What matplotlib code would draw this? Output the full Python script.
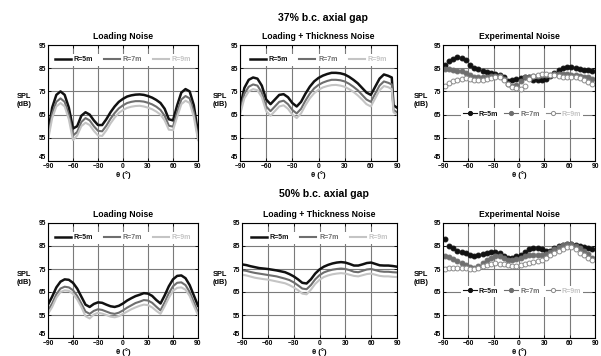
import numpy as np
import matplotlib
matplotlib.use("Agg")
from matplotlib import pyplot as plt

plt.rcParams['font.family'] = ['Liberation Sans', 'DejaVu Sans']
plt.rcParams['font.weight'] = 'bold'

# angles (deg)
theta = list(range(-90, 91, 5))
theta_lt = list(range(-90, 81, 5)) + [84, 86, 90]
theta_exp = list(range(-88, 88, 5))

# 37% b.c. axial gap
load37_r5 = [57, 68, 73.5, 75, 73.5, 68, 59, 60, 64.5, 66, 65, 62.5, 60.5, 60.5, 63, 66, 68.5, 70.5, 71.8,
             72.8, 73.3, 73.6, 73.7, 73.5, 73, 72.3, 71.3, 70, 67.5, 63, 62.5, 69, 74.5, 76, 75, 69, 57]
load37_r7 = [55, 65.5, 70.5, 72, 70.5, 65, 56, 57.5, 61.8, 63.5, 62.5, 60, 58, 57.8, 60.2, 63.2, 65.7, 67.7, 69,
             70, 70.5, 70.8, 70.8, 70.6, 70.1, 69.4, 68.4, 67, 64.5, 60.2, 59.8, 66, 71.5, 73, 72, 66, 55]
load37_r9 = [54, 63.5, 68.5, 70, 68.5, 63, 54, 56, 60, 61.5, 60.5, 58, 56, 55.8, 58.2, 61.2, 63.7, 65.7, 67,
             67.9, 68.4, 68.7, 68.8, 68.5, 68, 67.3, 66.3, 65, 62.5, 58.5, 58.3, 64, 69.5, 71, 70, 64, 54]

lt37_r5 = [68, 76.5, 80, 81, 80.5, 77.5, 71.5, 69.5, 71.5, 73.5, 73.8, 72.5, 70, 68.5, 70.5, 74, 77, 79.3, 80.8,
           81.8, 82.5, 83, 83, 82.8, 82.3, 81.3, 80, 78.5, 76.5, 74.5, 73.5, 77, 80.5, 82.3, 81.7, 81, 69, 68]
lt37_r7 = [66.5, 74, 77, 78, 77.5, 74.5, 68.5, 66.5, 68.5, 70.5, 71, 69.5, 67, 65.5, 67.5, 71, 74, 76.3, 77.8,
           78.8, 79.5, 80, 80, 79.8, 79.3, 78.3, 77, 75.5, 73.5, 71.5, 70.5, 74, 77.5, 79.3, 78.7, 78, 67, 66]
lt37_r9 = [65, 72, 75, 76, 75.5, 72.5, 66.5, 64.5, 66.5, 68.5, 69, 67.5, 65, 63.5, 65.5, 69, 72, 74.2, 75.7,
           76.7, 77.3, 77.7, 77.8, 77.5, 77, 76, 74.8, 73.3, 71.5, 69.5, 68.5, 72, 75.5, 77.3, 76.8, 76, 66, 65]

exp37_r5 = [86.5, 88, 89, 89.7, 89.5, 88.5, 86.5, 85.3, 84.5, 84, 83.5, 83, 82.5, 82, 81, 79.5, 80, 80.5,
            80.7, 81, 81, 80, 79.8, 79.8, 80.2, 81.5, 82.8, 84.3, 85.2, 85.5, 85.5, 85.3, 84.8, 84.4, 84.2, 84]
exp37_r7 = [84.5, 84.5, 84.3, 84, 83.7, 83, 82, 81.3, 81, 81, 81.3, 81.6, 81.8, 81.5, 80.3, 78, 77.4, 77.8,
            79.5, 81, 81.4, 81.6, 81.8, 82, 82, 82.2, 82.4, 82.5, 82.4, 82.3, 82.2, 82, 81.7, 81.4, 81, 80.4]
exp37_r9 = [77.3, 78.8, 79.5, 80, 80.5, 80.7, 80.5, 80, 79.7, 79.8, 80.2, 80.6, 81, 81.2, 79.8, 78, 77, 76.3,
            76, 77.5, 80.5, 81.5, 82, 82.3, 82.4, 82.2, 81.9, 81.6, 81.3, 81.2, 81.2, 81, 80.6, 80, 79.2, 78.4]

# 50% b.c. axial gap
load50_r5 = [59.5, 63, 67, 69.5, 70.5, 70.3, 69, 66.5, 63, 59.5, 58.5, 59.8, 60.5, 60.3, 59.5, 58.8, 58.5, 59, 60,
             61.3, 62.3, 63.2, 63.8, 64.5, 64.3, 63.3, 61.5, 60, 63.5, 67.5, 70.5, 72, 72.2, 71, 68, 63.5, 59]
load50_r7 = [57, 60, 64, 66.5, 67.3, 67, 65.8, 63.3, 60, 56.5, 55.5, 56.8, 57.5, 57.2, 56.5, 55.8, 55.5, 56, 57,
             58.2, 59.2, 60.2, 60.8, 61.5, 61.3, 60.3, 58.6, 57, 60.5, 64.5, 67.5, 69, 69.2, 68, 65, 60.5, 56]
load50_r9 = [55.5, 58.5, 62.5, 65, 65.7, 65.5, 64.2, 61.8, 58.5, 54.5, 53.5, 55.2, 56, 55.6, 55, 54.3, 54, 54.5, 55.5,
             56.5, 57.5, 58.3, 59, 59.5, 59.3, 58.3, 56.8, 55.5, 58.8, 62.5, 65.5, 66.8, 67, 66, 63.3, 59, 55]

lt50_r5 = [77, 76.7, 76.2, 75.8, 75.4, 75.2, 75, 74.7, 74.4, 74, 73.6, 72.8, 71.8, 70.5, 69, 68.7, 70.5, 73, 74.8,
           76, 76.8, 77.4, 77.8, 78, 77.8, 77.2, 76.5, 76.5, 77, 77.6, 77.8, 77.2, 76.6, 76.5, 76.5, 76.3, 76]
lt50_r7 = [74.5, 74.2, 73.7, 73.3, 73, 72.7, 72.4, 72.1, 71.8, 71.3, 70.8, 70.2, 69.2, 67.9, 66.5, 66.2, 68, 70.5, 72.3,
           73.5, 74.2, 74.7, 75, 75.2, 75, 74.5, 73.8, 73.6, 74.2, 74.8, 75, 74.5, 74, 73.8, 73.8, 73.6, 73.5]
lt50_r9 = [72.5, 72.2, 71.7, 71.2, 70.9, 70.6, 70.4, 70, 69.6, 69.2, 68.8, 68, 67, 65.8, 64.3, 64, 66, 68.5, 70.3,
           71.5, 72.2, 72.7, 73, 73.2, 73, 72.5, 72, 71.8, 72.3, 72.8, 73, 72.5, 72, 71.8, 71.8, 71.6, 71.5]

exp50_r5 = [88, 85.2, 84, 83, 82.5, 82, 81.3, 80.5, 81, 81.5, 82, 82.5, 82.5, 82, 80.5, 79.8, 80, 80.5,
            81, 82.3, 83.5, 84, 84, 83.8, 83, 83, 84, 84.8, 85.5, 86, 86, 85.5, 85, 84.5, 84, 83.5]
exp50_r7 = [80.5, 80.3, 79.5, 78.5, 77.5, 76.7, 76, 75.6, 76.5, 77.5, 78.8, 79.8, 80.5, 80.5, 79.8, 79, 79, 79.2,
            79.8, 80.5, 81, 81, 81, 81.2, 81.5, 82.5, 83.5, 84.5, 85.5, 86, 85.8, 85, 84, 83, 81.5, 80]
exp50_r9 = [75, 75.3, 75.5, 75.5, 75.6, 75.5, 75.2, 75, 75.5, 76.2, 76.8, 77.3, 77.5, 77.3, 77, 76.8, 76.5, 76.5,
            76.8, 77.2, 77.5, 78, 78.5, 79, 80, 81, 82, 82.8, 83.8, 84.5, 84.5, 83.5, 82, 81, 80, 79]

labels = ['R=5m', 'R=7m', 'R=9m']
colors = ['#111111', '#6e6e6e', '#c4c4c4']

W, H = 601, 356
fig = plt.figure(figsize=(W / 100, H / 100), dpi=100)


def px_axes(l, t, r, b):
    return fig.add_axes([l / W, 1 - b / H, (r - l) / W, (b - t) / H])


def style(ax, title, spl_x, spl_y):
    ax.set_xlim(-90, 90)
    ax.set_ylim(45, 95)
    ax.set_xticks(range(-90, 91, 30))
    ax.set_yticks(range(45, 96, 10))
    ax.grid(True, color='#7a7a7a', lw=0.8)
    ax.set_axisbelow(True)
    ax.tick_params(labelsize=4.8, length=2.5, width=0.6, direction='in', top=True, right=True, pad=1.5)
    for lab in ax.get_xticklabels() + ax.get_yticklabels():
        lab.set_fontweight('bold')
    # "45" sits just above the axis corner, as in the source figure
    ax.yaxis.get_major_ticks()[0].label1.set_verticalalignment('bottom')
    for s in ax.spines.values():
        s.set_linewidth(0.8)
    ax.set_title(title, fontsize=6.2, fontweight='bold', pad=4)
    ax.set_xlabel('θ (°)', fontsize=5.5, fontweight='bold', labelpad=0.5)
    fig.text(spl_x / W, 1 - spl_y / H, 'SPL\n(dB)', fontsize=5.3, fontweight='bold',
             ha='center', va='center', linespacing=1.2)


def lines_panel(ax, x, series, title, spl_x, spl_y):
    for y, c, lab, lw in zip(series, colors, labels, [1.8, 1.5, 1.5]):
        ax.plot(x, y, color=c, lw=lw, label=lab)
    style(ax, title, spl_x, spl_y)
    leg = ax.legend(loc='upper center', bbox_to_anchor=(0.5, 0.955), ncol=3, fontsize=5,
                    frameon=True, fancybox=False, edgecolor='none', facecolor='white', framealpha=1,
                    handlelength=2.3, handletextpad=0.4, columnspacing=1.6, borderpad=0.35)
    for t, c in zip(leg.get_texts(), colors):
        t.set_color(c)
        t.set_fontweight('bold')


def exp_panel(ax, series, title, spl_x, spl_y):
    fills = ['#111111', '#6e6e6e', 'white']
    edges = ['#111111', '#6e6e6e', '#8a8a8a']
    for y, fc, ec, c, lab in zip(series, fills, edges, colors, labels):
        ax.plot(theta_exp, y, ls='none', marker='o', ms=3.5, mfc=fc, mec=ec, mew=0.7, label=lab)
    style(ax, title, spl_x, spl_y)
    hs = [plt.Line2D([], [], color=e, lw=0.8, marker='o', ms=3, mfc=f, mec=e, mew=0.7)
          for f, e in zip(fills, edges)]
    leg = ax.legend(hs, labels, loc='center', bbox_to_anchor=(0.52, 0.405), ncol=3, fontsize=5,
                    frameon=True, fancybox=False, edgecolor='none', facecolor='white', framealpha=1,
                    handlelength=2.0, handletextpad=0.3, columnspacing=0.9, borderpad=0.3)
    for t, c in zip(leg.get_texts(), colors):
        t.set_color(c)
        t.set_fontweight('bold')


# top row: 37%
ax1 = px_axes(48, 45, 198, 161)
lines_panel(ax1, theta, [load37_r5, load37_r7, load37_r9], 'Loading Noise', 24, 100)
ax2 = px_axes(240, 45, 397, 161)
lines_panel(ax2, theta_lt, [lt37_r5, lt37_r7, lt37_r9], 'Loading + Thickness Noise', 220, 100)
ax3 = px_axes(443, 45, 595, 161)
exp_panel(ax3, [exp37_r5, exp37_r7, exp37_r9], 'Experimental Noise', 421, 100)

# bottom row: 50%
ax4 = px_axes(48, 223, 198, 338)
lines_panel(ax4, theta, [load50_r5, load50_r7, load50_r9], 'Loading Noise', 24, 278)
ax5 = px_axes(242, 223, 397, 338)
lines_panel(ax5, theta, [lt50_r5, lt50_r7, lt50_r9], 'Loading + Thickness Noise', 220, 278)
ax6 = px_axes(443, 223, 595, 338)
exp_panel(ax6, [exp50_r5, exp50_r7, exp50_r9], 'Experimental Noise', 421, 278)

fig.text(323 / W, 1 - 18 / H, '37% b.c. axial gap', fontsize=7.6, fontweight='bold', ha='center', va='center')
fig.text(324 / W, 1 - 194 / H, '50% b.c. axial gap', fontsize=7.6, fontweight='bold', ha='center', va='center')

fig.savefig('out.png', dpi=100)
